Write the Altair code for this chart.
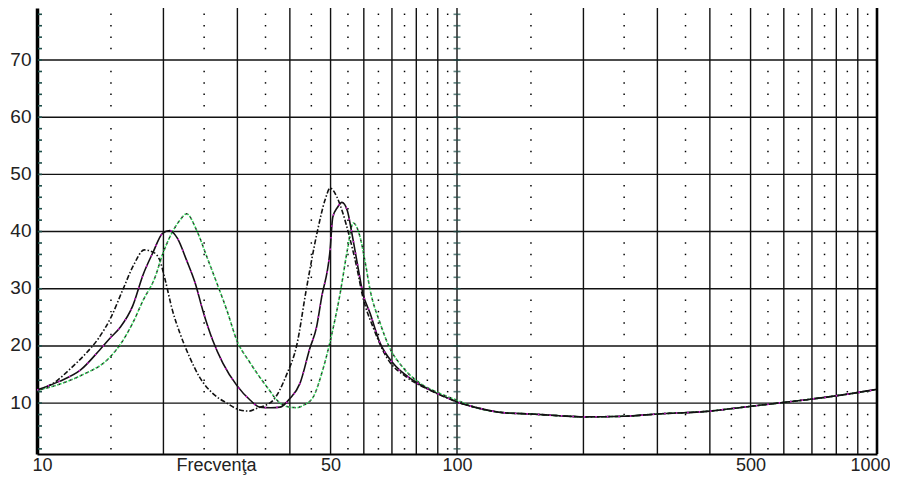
import altair as alt
import pandas as pd

# ---- curve data (frequency in Hz, impedance in ohm) ----
freq_a = [10, 11, 12, 13, 14, 15, 16, 17, 18, 18.9, 19.6, 20.2, 21.0, 21.9, 23.1, 24.4,
          26.2, 28.3, 30.4, 32, 33.4, 35, 36.5, 39.4, 41.5, 43.8, 46.5, 48.5, 49.9, 51.8,
          53.5, 55.5, 57.7, 59.7, 63.1, 68, 76, 86, 97.7]
imp_a = [12.2, 13.6, 16.0, 18.5, 21.3, 25.0, 29.8, 34.2, 36.8, 36.4, 35.0, 31.5, 26.3, 22.2,
         18.0, 14.5, 11.7, 10.0, 8.8, 8.6, 9.1, 9.6, 10.5, 15.2, 20, 30, 40, 45.5, 47.6, 46,
         43.2, 39, 33.8, 28.5, 23.3, 18, 14.5, 12.3, 10.5]

freq_b = [10, 11.3, 12.7, 14.1, 14.9, 15.8, 16.9, 17.9, 18.9, 19.9, 20.7, 21.6, 22.7, 23.8,
          24.8, 26.2, 27.7, 29.9, 32.2, 33.9, 36, 37.9, 40, 42.3, 44.6, 46.3, 47.6, 49.9,
          50.6, 52, 53.2, 54.8, 56.2, 58.1, 59.7, 62.1, 65.6, 70.4, 78.6, 89.6, 97.7]
imp_b = [12.3, 13.8, 15.8, 19.3, 21.3, 23.3, 27, 32.5, 36.4, 39.7, 40.2, 38.8, 35, 31, 26.3,
         21, 17, 13.1, 10.5, 9.3, 9.2, 9.3, 10.8, 13.5, 19.5, 23.3, 28.5, 37, 42.5, 44.3,
         45.1, 43.7, 39.7, 33.8, 29.2, 25.7, 20.5, 17, 14, 11.7, 10.5]

freq_c = [10, 11.3, 12.7, 14.9, 15.8, 16.9, 17.9, 19.1, 19.9, 20.7, 21.9, 22.7, 24, 25.4,
          26.8, 28.3, 29.9, 32.2, 35.3, 37.9, 40, 41.6, 43, 45.4, 47.9, 50.6, 52.7, 54.8,
          56.6, 58.8, 60.5, 62.1, 65.6, 69, 74.2, 81.6, 91, 100]
imp_c = [12.2, 13.3, 14.8, 18, 20.3, 24, 28, 32, 36, 39, 42, 43.1, 40.2, 35.5, 31, 26.3, 21,
         17, 12.8, 10, 9.3, 9.2, 9.6, 11, 15.8, 22.8, 29.2, 36.7, 41.5, 39, 34.5, 29.8, 24,
         19.8, 16.3, 13.5, 11.7, 10.5]

freq_tail = [100, 110, 130, 150, 175, 200, 250, 300, 400, 470, 565, 680, 820, 1000]
imp_tail = [10.2, 9.3, 8.3, 8.1, 7.8, 7.6, 7.7, 8.1, 8.6, 9.2, 9.9, 10.6, 11.4, 12.4]

# ---- axis / grid values ----
x_labels = [10, 50, 100, 500, 1000]
y_labels = [10, 20, 30, 40, 50, 60, 70]
x_major = [20, 30, 40, 50, 60, 70, 80, 90, 200, 300, 400, 500, 600, 700, 800, 900]
x_dotted = [15, 25, 35, 45, 55, 65, 75, 85, 95, 150, 250, 350, 450, 550, 650, 750, 850, 950]
y_minor = [v for v in range(2, 80, 2) if v % 10 != 0]
x_title = "Frecvenţa"


def series(fs, zs):
    f = list(fs) + [t for t in freq_tail if t > fs[-1]]
    z = list(zs) + [v for t, v in zip(freq_tail, imp_tail) if t > fs[-1]]
    return pd.DataFrame({"f": f, "z": z})


df_a = series(freq_a, imp_a)
df_b = series(freq_b, imp_b)
df_c = series(freq_c, imp_c)

dots = pd.DataFrame([{"f": f, "z": z} for f in x_dotted for z in y_minor])
majors = pd.DataFrame({"f": x_major})
hlines = pd.DataFrame({"z": y_labels})
yticks = pd.DataFrame({"z": y_minor + y_labels})
col100 = pd.DataFrame({"f": [100] * len(y_minor + y_labels), "z": y_minor + y_labels})

FONT = "Liberation Sans"
PLOT_W, PLOT_H = 840, 446
xs = alt.Scale(type="log", domain=[10, 1000], nice=False)
ys = alt.Scale(domain=[1.1, 79.1], nice=False, zero=False)

xaxis = alt.Axis(values=x_labels, format="d", grid=False, ticks=False, tickSize=0,
                 domainColor="#000", domainWidth=2, labelFont=FONT, labelFontSize=18,
                 labelColor="#222", labelPadding=2, labelFlush=False, labelOverlap=False,
                 labelOffset={"condition": [{"test": "datum.value == 10", "value": 5},
                                            {"test": "datum.value == 1000", "value": -7}],
                              "value": 0},
                 title=x_title, titleX=179, titleY=2, titleBaseline="top", titleAlign="center",
                 titleFont=FONT, titleFontSize=18, titleFontWeight="normal", titleColor="#222")
yaxis = alt.Axis(values=y_labels, grid=False, ticks=False, tickSize=0, domainColor="#000",
                 domainWidth=3.5, labelFont=FONT, labelFontSize=19, labelColor="#222",
                 labelPadding=6, labelOffset=-1, title=None)

X = alt.X("f:Q", scale=xs, axis=xaxis)
Y = alt.Y("z:Q", scale=ys, axis=yaxis)

dot_layer = alt.Chart(dots).mark_square(size=2.2, color="#000", opacity=1).encode(x=X, y=Y)
major_layer = alt.Chart(majors).mark_rule(color="#111", strokeWidth=1.4).encode(x=X)
h_layer = alt.Chart(hlines).mark_rule(color="#111", strokeWidth=1.4).encode(y=Y)
line100 = alt.Chart(pd.DataFrame({"f": [100]})).mark_rule(color="#111", strokeWidth=1.4).encode(x=X)
ticks100 = alt.Chart(col100).mark_tick(orient="horizontal", size=7, thickness=1.6,
                                       color="#1f4f4a").encode(x=X, y=Y)
left_ticks = alt.Chart(yticks).mark_rule(color="#1f4f4a", strokeWidth=1.6).encode(
    x=alt.value(1), x2=alt.value(5), y=Y)
right_edge = alt.Chart(pd.DataFrame({"f": [1000]})).mark_rule(color="#000", strokeWidth=2.6).encode(x=X)

line_a = alt.Chart(df_a).mark_line(color="#111", strokeWidth=1.6, strokeDash=[5, 2, 1.5, 2],
                                   interpolate="monotone", clip=True).encode(x=X, y=Y)
line_c_g = alt.Chart(df_c).mark_line(color="#22c84a", strokeWidth=1.6, strokeDash=[1.5, 1.5],
                                     interpolate="monotone", clip=True).encode(x=X, y=Y)
line_c_k = alt.Chart(df_c).mark_line(color="#222", strokeWidth=1.5, strokeDash=[1.5, 4.5],
                                     strokeDashOffset=1.5, interpolate="monotone",
                                     clip=True).encode(x=X, y=Y)
line_b = alt.Chart(df_b).mark_line(color="#141014", strokeWidth=1.6,
                                   interpolate="monotone", clip=True).encode(x=X, y=Y)
line_b_m = alt.Chart(df_b).mark_line(color="#d61ed6", strokeWidth=1.6, strokeDash=[1.5, 10],
                                     interpolate="monotone", clip=True).encode(x=X, y=Y)

chart = alt.layer(
    dot_layer, major_layer, h_layer, line100, ticks100, left_ticks,
    line_a, line_c_g, line_c_k, line_b, line_b_m, right_edge
).properties(
    width=PLOT_W, height=PLOT_H,
    autosize=alt.AutoSizeParams(type="none"),
    padding={"left": 29, "top": 0, "right": 13, "bottom": 21},
    background="white",
).configure_view(stroke=None)

chart.save("out.html", embed_options={"renderer": "svg", "actions": False})
